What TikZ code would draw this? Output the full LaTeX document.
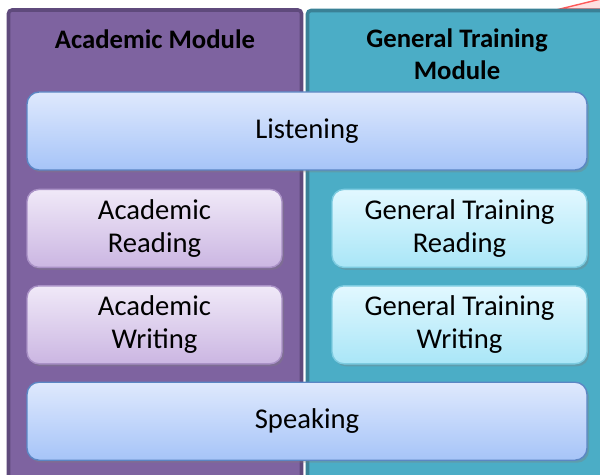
\documentclass[tikz,border=0pt]{standalone}
\usepackage{fontspec}
\setmainfont{Carlito}
\usetikzlibrary{positioning, shadows}

\definecolor{acadpanel}{HTML}{7E63A0}
\definecolor{acadedge}{HTML}{5F4A7C}
\definecolor{genpanel}{HTML}{4BADC6}
\definecolor{genedge}{HTML}{3A8196}
\definecolor{bluetop}{HTML}{DFE9FD}
\definecolor{bluebot}{HTML}{A6C4F8}
\definecolor{blueedge}{HTML}{5B86C4}
\definecolor{liltop}{HTML}{F0E9F8}
\definecolor{lilbot}{HTML}{CBB6E2}
\definecolor{liledge}{HTML}{A991C6}
\definecolor{aquatop}{HTML}{E2F8FF}
\definecolor{aquabot}{HTML}{A9E6F7}
\definecolor{aquaedge}{HTML}{7CCBE0}

\tikzset{
    skill/.style={rectangle, rounded corners=0.24cm, align=center, thick,
        font=\fontsize{16.3}{18.8}\selectfont, minimum height=1.56cm,
        drop shadow={shadow xshift=0.04cm, shadow yshift=-0.05cm, opacity=0.35}},
    widebox/.style={skill, draw=blueedge, top color=bluetop, bottom color=bluebot,
        minimum width=11.2cm},
    acadbox/.style={skill, draw=liledge, top color=liltop, bottom color=lilbot,
        minimum width=5.1cm},
    genbox/.style={skill, draw=aquaedge, top color=aquatop, bottom color=aquabot,
        minimum width=5.1cm},
    title/.style={align=center, font=\fontsize{15.2}{18.5}\selectfont\bfseries}
}

\begin{document}
\begin{tikzpicture}
    \useasboundingbox (0, 0) rectangle (12, -9.5);
    \begin{scope}
        \clip (0, 0) rectangle (12, -9.5);
        % red shape peeking in at the corner
        \fill[red!12, draw=red!65, thick] (11.2, -0.18) -- (12.1, 0.04) -- (12.1, -0.18) -- cycle;
        % the two module panels
        \draw[acadedge, fill=acadpanel, line width=2pt, rounded corners=2pt] (0.17, -0.2) rectangle (6.03, -9.8);
        \draw[genedge, fill=genpanel, line width=2pt, rounded corners=2pt] (6.15, -0.21) rectangle (12.3, -9.8);
    \end{scope}

    \node (acadtitle) [title] at (3.1, -0.78) {Academic Module};
    \node (gentitle) [title] at (9.14, -1.08) {General Training\\Module};

    \node (listening) [widebox] at (6.14, -2.62) {Listening};
    \node (acadread) [acadbox, below=0.36cm of listening.south west, anchor=north west] {Academic\\Reading};
    \node (genread) [genbox, below=0.36cm of listening.south east, anchor=north east] {General Training\\Reading};
    \node (acadwrite) [acadbox, below=0.34cm of acadread] {Academic\\Writing};
    \node (genwrite) [genbox, below=0.34cm of genread] {General Training\\Writing};
    \node (speaking) [widebox, below=0.34cm of acadwrite.south west, anchor=north west] {Speaking};
\end{tikzpicture}
\end{document}
